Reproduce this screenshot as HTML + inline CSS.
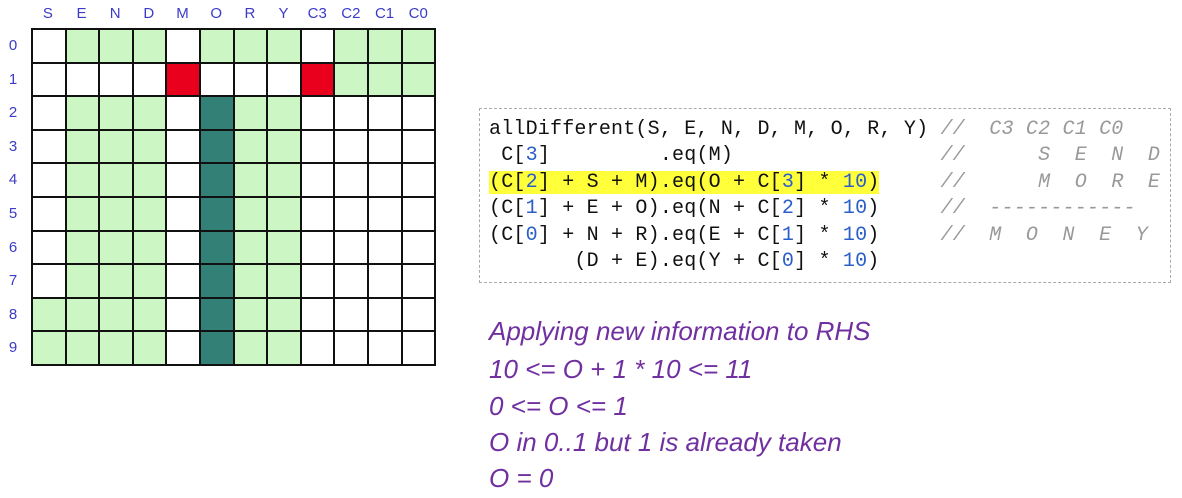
<!DOCTYPE html>
<html><head><style>
body{margin:0;width:1182px;height:498px;background:#fff;position:relative;overflow:hidden;font-family:"Liberation Sans",sans-serif}
.cl{position:absolute;color:#3b3bc8;font-size:15px;text-align:center}
table{position:absolute;left:31px;top:28px;border-collapse:collapse}
td{width:31.6px;height:31.6px;border:2px solid #111;padding:0}
.g{background:#ccf7c4}.r{background:#e8001c}.t{background:#338077}
.code{position:absolute;left:479px;top:108px;width:692px;height:175px;border:1px dashed #aaa;box-sizing:border-box}
pre{position:absolute;left:9px;top:8px;margin:0;font-family:"Liberation Mono",monospace;font-size:20px;line-height:26.4px;color:#111;letter-spacing:0.2px}
.n{color:#2a5fc8}.c{color:#999;font-style:italic}
.hl{background:#ffff3a}
.p{position:absolute;left:489px;font-style:italic;color:#7030a0;font-size:26px}
</style></head><body>
<div class="cl" style="left:31px;top:5px;width:404px;display:flex"><span style="flex:1">S</span><span style="flex:1">E</span><span style="flex:1">N</span><span style="flex:1">D</span><span style="flex:1">M</span><span style="flex:1">O</span><span style="flex:1">R</span><span style="flex:1">Y</span><span style="flex:1">C3</span><span style="flex:1">C2</span><span style="flex:1">C1</span><span style="flex:1">C0</span></div>
<div class="cl" style="left:4px;top:29px;width:18px;line-height:33.6px">0<br>1<br>2<br>3<br>4<br>5<br>6<br>7<br>8<br>9</div>
<table>
<tr><td></td><td class="g"></td><td class="g"></td><td class="g"></td><td></td><td class="g"></td><td class="g"></td><td class="g"></td><td></td><td class="g"></td><td class="g"></td><td class="g"></td></tr>
<tr><td></td><td></td><td></td><td></td><td class="r"></td><td></td><td></td><td></td><td class="r"></td><td class="g"></td><td class="g"></td><td class="g"></td></tr>
<tr><td></td><td class="g"></td><td class="g"></td><td class="g"></td><td></td><td class="t"></td><td class="g"></td><td class="g"></td><td></td><td></td><td></td><td></td></tr>
<tr><td></td><td class="g"></td><td class="g"></td><td class="g"></td><td></td><td class="t"></td><td class="g"></td><td class="g"></td><td></td><td></td><td></td><td></td></tr>
<tr><td></td><td class="g"></td><td class="g"></td><td class="g"></td><td></td><td class="t"></td><td class="g"></td><td class="g"></td><td></td><td></td><td></td><td></td></tr>
<tr><td></td><td class="g"></td><td class="g"></td><td class="g"></td><td></td><td class="t"></td><td class="g"></td><td class="g"></td><td></td><td></td><td></td><td></td></tr>
<tr><td></td><td class="g"></td><td class="g"></td><td class="g"></td><td></td><td class="t"></td><td class="g"></td><td class="g"></td><td></td><td></td><td></td><td></td></tr>
<tr><td></td><td class="g"></td><td class="g"></td><td class="g"></td><td></td><td class="t"></td><td class="g"></td><td class="g"></td><td></td><td></td><td></td><td></td></tr>
<tr><td class="g"></td><td class="g"></td><td class="g"></td><td class="g"></td><td></td><td class="t"></td><td class="g"></td><td class="g"></td><td></td><td></td><td></td><td></td></tr>
<tr><td class="g"></td><td class="g"></td><td class="g"></td><td class="g"></td><td></td><td class="t"></td><td class="g"></td><td class="g"></td><td></td><td></td><td></td><td></td></tr>
</table>
<div class="code"><pre>allDifferent(S, E, N, D, M, O, R, Y) <span class="c">//  C3 C2 C1 C0</span>
 C[<span class="n">3</span>]         .eq(M)                 <span class="c">//      S  E  N  D</span>
<span class="hl">(C[<span class="n">2</span>] + S + M).eq(O + C[<span class="n">3</span>] * <span class="n">10</span>)</span>     <span class="c">//      M  O  R  E</span>
(C[<span class="n">1</span>] + E + O).eq(N + C[<span class="n">2</span>] * <span class="n">10</span>)     <span class="c">//  ------------</span>
(C[<span class="n">0</span>] + N + R).eq(E + C[<span class="n">1</span>] * <span class="n">10</span>)     <span class="c">//  M  O  N  E  Y</span>
       (D + E).eq(Y + C[<span class="n">0</span>] * <span class="n">10</span>)</pre></div>
<div class="p" style="top:316px">Applying new information to RHS</div>
<div class="p" style="top:354px">10 &lt;= O + 1 * 10 &lt;= 11</div>
<div class="p" style="top:391px">0 &lt;= O &lt;= 1</div>
<div class="p" style="top:427px">O in 0..1 but 1 is already taken</div>
<div class="p" style="top:463px">O = 0</div>
</body></html>
